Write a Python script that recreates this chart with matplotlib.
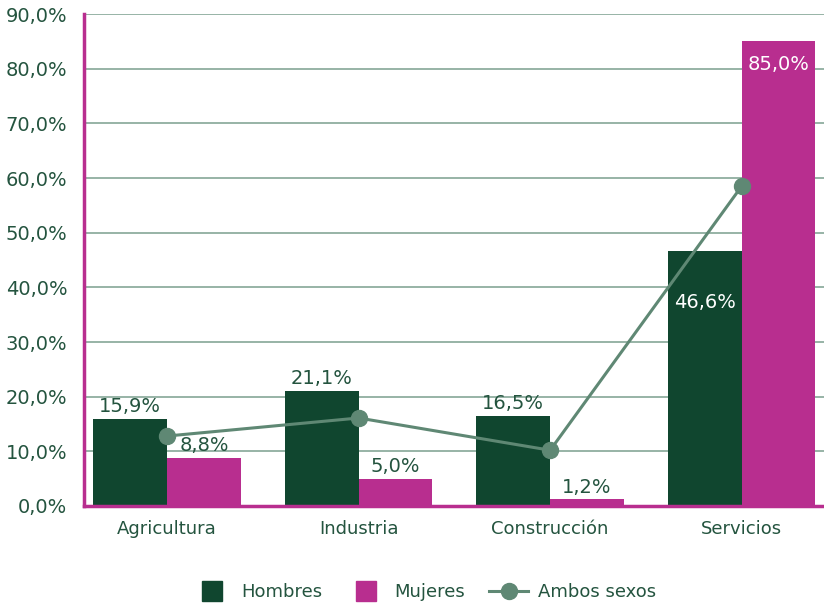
import matplotlib.pyplot as plt
from matplotlib.lines import Line2D
import numpy as np

plt.rcParams['font.family'] = ['DejaVu Sans']

sectores = ["Agricultura", "Industria", "Construcción", "Servicios"]
hombres = [15.9, 21.1, 16.5, 46.6]
mujeres = [8.8, 5.0, 1.2, 85.0]
ambos = [12.8, 16.1, 10.2, 58.5]

c_hom = "#10462f"
c_muj = "#b82e8f"
c_amb = "#5f8874"
c_txt = "#24543f"

def fmt(v):
    return f"{v:.1f}".replace(".", ",") + "%"

fig = plt.figure(figsize=(8.24, 6.07), dpi=100)
ax = fig.add_axes([0.102, 0.1664, 0.898, 0.8105])

x = np.arange(len(sectores))
w = 0.385

ax.bar(x - w / 2, hombres, w, color=c_hom, zorder=2)
ax.bar(x + w / 2, mujeres, w, color=c_muj, zorder=2)
ax.plot(x, ambos, color=c_amb, lw=2.2, marker="o", ms=11.5, zorder=4)

# value labels: above the bar, or inside for the tall services bars
def etiqueta(xpos, v, inside_off):
    if v > 40:
        ax.annotate(fmt(v), (xpos, v), xytext=(0, inside_off), textcoords="offset points",
                    ha="center", va="top", color="white", fontsize=14, zorder=5)
    else:
        ax.annotate(fmt(v), (xpos, v), xytext=(0, 2), textcoords="offset points",
                    ha="center", va="bottom", color=c_txt, fontsize=14, zorder=5)

for i in range(len(sectores)):
    etiqueta(x[i] - w / 2, hombres[i], -30)
    etiqueta(x[i] + w / 2, mujeres[i], -10)

ax.set_xlim(-0.434, 3.43)
ax.set_ylim(0, 90)
ax.set_yticks(np.arange(0, 91, 10))
ax.set_yticklabels([fmt(t) for t in np.arange(0, 91, 10)])
ax.set_xticks(x)
ax.set_xticklabels(sectores)
ax.tick_params(axis="both", length=0, colors=c_txt)
ax.tick_params(axis="x", pad=10, labelsize=13)
ax.tick_params(axis="y", pad=12, labelsize=14)

ax.grid(axis="y", color="#8fae9f", lw=1.3, zorder=0)
ax.set_axisbelow(True)
for s in ["top", "right"]:
    ax.spines[s].set_visible(False)
for s in ["left", "bottom"]:
    ax.spines[s].set_color(c_muj)
    ax.spines[s].set_linewidth(2.5)

handles = [Line2D([], [], ls="none", marker="s", ms=15, color=c_hom),
           Line2D([], [], ls="none", marker="s", ms=15, color=c_muj),
           Line2D([], [], color=c_amb, lw=2.2, marker="o", ms=11.5)]
fig.legend(handles, ["Hombres", "Mujeres", "Ambos sexos"], loc="center",
           bbox_to_anchor=(0.5146, 0.024), ncol=3, frameon=False, fontsize=13,
           labelcolor=c_txt, handlelength=2.2, handletextpad=0.5, columnspacing=1.3)

fig.savefig("out.png", dpi=100)
